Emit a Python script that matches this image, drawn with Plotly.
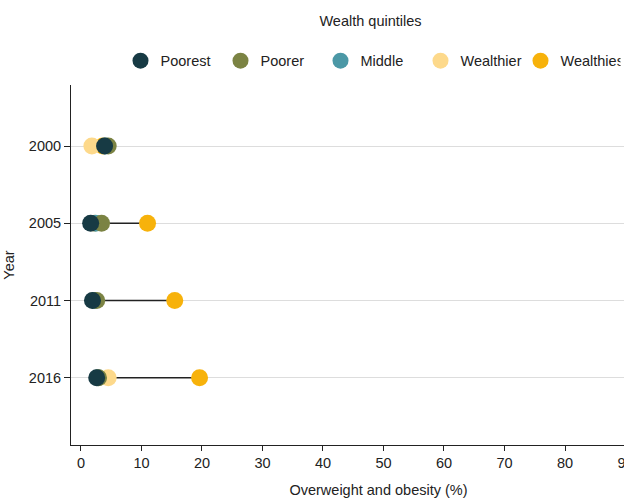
import plotly.graph_objects as go

years = ["2000", "2005", "2011", "2016"]
poorest = [3.9, 1.6, 1.9, 2.6]
poorer = [4.5, 3.4, 2.6, 2.9]
middle = [4.0, 2.4, 2.2, 2.8]
wealthier = [1.8, 2.2, 2.1, 4.5]
wealthiest = [3.6, 11.0, 15.5, 19.6]

series = [
    ("Poorest", poorest, "#173a44"),
    ("Poorer", poorer, "#7b8343"),
    ("Middle", middle, "#4b98a6"),
    ("Wealthier", wealthier, "#fdd98b"),
    ("Wealthiest", wealthiest, "#f7b20b"),
]

ypos = list(range(len(years)))

fig = go.Figure()

# range lines (min to max per year)
lx, ly = [], []
for i in range(len(years)):
    vals = [s[1][i] for s in series]
    lx += [min(vals), max(vals), None]
    ly += [ypos[i], ypos[i], None]
fig.add_trace(go.Scatter(x=lx, y=ly, mode="lines", line=dict(color="#222222", width=1.5),
                         showlegend=False, hoverinfo="skip"))

for rank, (name, vals, col) in reversed(list(enumerate(series))):
    fig.add_trace(go.Scatter(
        x=vals, y=ypos, mode="markers", name=name, legendrank=rank + 1,
        marker=dict(color=col, size=17, line=dict(width=0)),
    ))

font = "Liberation Sans, Arial, sans-serif"
fs = 14.5
fig.update_layout(
    width=700, height=499,
    margin=dict(l=71, r=14, t=85, b=54, autoexpand=False),
    paper_bgcolor="white", plot_bgcolor="white",
    font=dict(family=font, size=fs, color="#222222"),
    legend=dict(
        orientation="h", x=0.487, xanchor="center", y=1.022, yanchor="bottom",
        title=dict(text="Wealth quintiles<br>&nbsp;", side="top center", font=dict(size=fs)),
        font=dict(size=fs), itemsizing="trace", entrywidth=55,
    ),
    xaxis=dict(
        range=[-1.65, 100], tickvals=list(range(0, 101, 10)), automargin=False,
        showgrid=False, zeroline=False, showline=True, linecolor="#222222", linewidth=1,
        ticks="outside", ticklen=5, tickcolor="#222222",
        title=dict(text="Overweight and obesity (%)", font=dict(size=fs), standoff=14),
    ),
    yaxis=dict(
        range=[3.87, -0.79], tickvals=ypos, ticktext=years, automargin=False,
        showgrid=True, gridcolor="#dddddd", gridwidth=1, zeroline=False,
        showline=True, linecolor="#222222", linewidth=1,
        ticks="outside", ticklen=6, tickcolor="#222222",
        title=dict(text="Year", font=dict(size=fs), standoff=10),
    ),
)

fig.write_html("out.html", config={"displayModeBar": False},
               post_script="document.body.style.margin='0';document.body.style.overflow='hidden';document.documentElement.style.overflow='hidden';")
